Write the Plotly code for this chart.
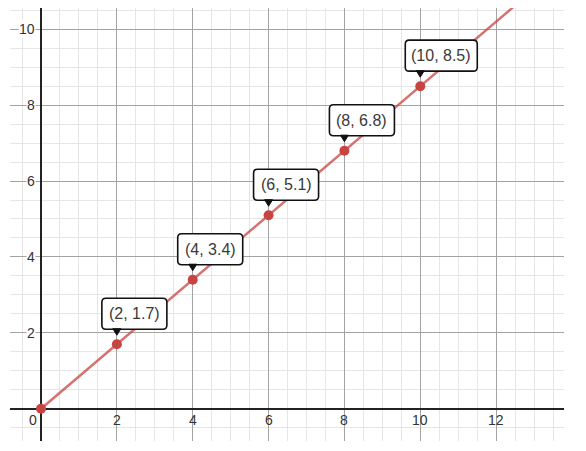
import plotly.graph_objects as go

# ---- data ----
point_x = [0, 2, 4, 6, 8, 10]
point_y = [0, 1.7, 3.4, 5.1, 6.8, 8.5]
labeled_x = [2, 4, 6, 8, 10]
labeled_y = [1.7, 3.4, 5.1, 6.8, 8.5]
point_labels = ["(2, 1.7)", "(4, 3.4)", "(6, 5.1)", "(8, 6.8)", "(10, 8.5)"]
slope = 0.85
line_x = [0, 14]
x_tick_vals = [2, 4, 6, 8, 10, 12]
x_tick_text = ["2", "4", "6", "8", "10", "12"]
y_tick_vals = [2, 4, 6, 8, 10]
y_tick_text = ["2", "4", "6", "8", "10"]
origin_label = "0"

RED = "#c74440"
FONT = "Liberation Sans, Arial, sans-serif"

fig = go.Figure()

fig.add_trace(go.Scatter(
    x=line_x, y=[slope * v for v in line_x], mode="lines",
    line=dict(color="rgba(199,68,64,0.75)", width=2.5),
    hoverinfo="skip", showlegend=False, cliponaxis=True,
))
fig.add_trace(go.Scatter(
    x=point_x, y=point_y, mode="markers",
    marker=dict(color=RED, size=10),
    showlegend=False, cliponaxis=False,
))

shapes = []
annotations = []

# point labels with rounded boxes and pointer
for xv, yv, txt in zip(labeled_x, labeled_y, point_labels):
    W = 7 * len(txt) + 9
    L, B, T, r = -15, 15, 46, 4
    R = L + W
    path = (f"M {L+r},{B} L {R-r},{B} Q {R},{B} {R},{B+r} L {R},{T-r} "
            f"Q {R},{T} {R-r},{T} L {L+r},{T} Q {L},{T} {L},{T-r} "
            f"L {L},{B+r} Q {L},{B} {L+r},{B} Z")
    shapes.append(dict(
        type="path", xref="x", yref="y", xsizemode="pixel", ysizemode="pixel",
        xanchor=xv, yanchor=yv, path=path, fillcolor="white",
        line=dict(color="#111", width=1.6), layer="above",
    ))
    shapes.append(dict(
        type="path", xref="x", yref="y", xsizemode="pixel", ysizemode="pixel",
        xanchor=xv, yanchor=yv, path="M -4,15.5 L 4,15.5 L 0,9 Z",
        fillcolor="#111", line=dict(color="#111", width=1), layer="above",
    ))
    annotations.append(dict(
        x=xv, y=yv, xref="x", yref="y", text=txt, showarrow=False,
        xanchor="center", yanchor="middle",
        xshift=L + W / 2, yshift=(B + T) / 2,
        font=dict(family=FONT, size=16, color="#3a3a3a"),
    ))

# axis tick labels
for v, t in zip(x_tick_vals, x_tick_text):
    annotations.append(dict(
        x=v, y=0, xref="x", yref="y", text=t, showarrow=False,
        xanchor="center", yanchor="middle", yshift=-11,
        font=dict(family=FONT, size=14, color="#333"),
    ))
for v, t in zip(y_tick_vals, y_tick_text):
    annotations.append(dict(
        x=0, y=v, xref="x", yref="y", text=t, showarrow=False,
        xanchor="right", yanchor="middle", xshift=-5,
        bgcolor="white", borderpad=0,
        font=dict(family=FONT, size=14, color="#333"),
    ))
annotations.append(dict(
    x=0, y=0, xref="x", yref="y", text=origin_label, showarrow=False,
    xanchor="center", yanchor="middle", xshift=-8, yshift=-11,
    font=dict(family=FONT, size=14, color="#333"),
))

axis_common = dict(
    showticklabels=False, ticks="", showline=False,
    showgrid=True, gridcolor="#a3a3a3", gridwidth=1,
    zeroline=True, zerolinecolor="#222", zerolinewidth=2,
    tick0=0, dtick=2, fixedrange=True,
    minor=dict(dtick=0.5, showgrid=True, gridcolor="#e6e6e6", gridwidth=1, ticks=""),
)

fig.update_layout(
    width=586, height=451,
    margin=dict(l=2, r=30, t=0, b=18),
    paper_bgcolor="white", plot_bgcolor="white",
    xaxis=dict(range=[-0.818, 13.79], **axis_common),
    yaxis=dict(range=[-0.851, 10.56], **axis_common),
    shapes=shapes, annotations=annotations,
    showlegend=False,
)

fig.write_html("out.html")
